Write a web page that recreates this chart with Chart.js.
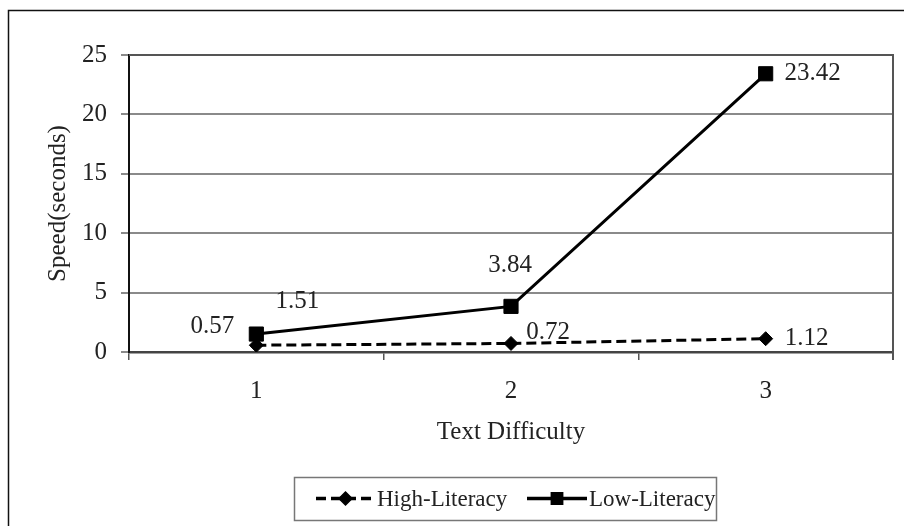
<!DOCTYPE html>
<html>
<head>
<meta charset="utf-8">
<script src="https://cdn.jsdelivr.net/npm/chart.js@4/dist/chart.umd.min.js"></script>
<style>
  html, body { margin: 0; padding: 0; background: #fff; overflow: hidden; }
  #wrap { position: relative; width: 904px; height: 526px; }
</style>
</head>
<body>
<div id="wrap"><canvas id="chart" width="904" height="526"></canvas></div>
<script>
// Reading speed by text difficulty
const categories = ['1', '2', '3'];
const highLiteracy = [0.57, 0.72, 1.12];
const lowLiteracy = [1.51, 3.84, 23.42];
const yTicks = [0, 5, 10, 15, 20, 25];

const FONT = "'Liberation Serif', 'Times New Roman', serif";
const INK = '#222';

// Label placement relative to each point (dx, dy in px)
const labelOffsets = [
  [[-44, -19], [37, -11], [41, 0]],
  [[41, -33], [-1, -41], [47, 0]]
];

const framePlugin = {
  id: 'frame',
  beforeDraw(chart) {
    const ctx = chart.ctx;
    ctx.save();
    ctx.fillStyle = '#fff';
    ctx.fillRect(0, 0, chart.width, chart.height);
    ctx.strokeStyle = '#111';
    ctx.lineWidth = 1.5;
    ctx.beginPath();
    ctx.moveTo(8.5, chart.height);
    ctx.lineTo(8.5, 10.5);
    ctx.lineTo(chart.width, 10.5);
    ctx.stroke();
    ctx.restore();
  },
  afterDatasetsDraw(chart) {
    const ctx = chart.ctx;
    const a = chart.chartArea;
    ctx.save();
    // plot area top and right edges
    ctx.strokeStyle = '#555';
    ctx.lineWidth = 2;
    ctx.beginPath();
    ctx.moveTo(a.left, a.top);
    ctx.lineTo(a.right, a.top);
    ctx.lineTo(a.right, a.bottom + 8);
    ctx.stroke();

    // value labels
    ctx.font = '25px ' + FONT;
    ctx.fillStyle = INK;
    ctx.textAlign = 'center';
    ctx.textBaseline = 'middle';
    chart.data.datasets.forEach((ds, di) => {
      const meta = chart.getDatasetMeta(di);
      meta.data.forEach((pt, i) => {
        const off = labelOffsets[di][i];
        ctx.fillText(ds.data[i].toFixed(2), pt.x + off[0], pt.y + off[1]);
      });
    });

    // legend
    const lx = 294, ly = 477, lw = 422, lh = 43;
    ctx.strokeStyle = '#777';
    ctx.lineWidth = 1.5;
    ctx.strokeRect(lx + 0.5, ly + 0.5, lw, lh);
    const cy = ly + lh / 2;
    ctx.font = '23px ' + FONT;
    const items = [
      { ds: chart.data.datasets[0], x0: 316, x1: 375, tx: 377 },
      { ds: chart.data.datasets[1], x0: 527, x1: 587, tx: 589 }
    ];
    items.forEach(it => {
      ctx.save();
      ctx.strokeStyle = '#000';
      ctx.lineWidth = 3.5;
      ctx.setLineDash(it.ds.borderDash || []);
      ctx.beginPath();
      ctx.moveTo(it.x0, cy);
      ctx.lineTo(it.x1, cy);
      ctx.stroke();
      ctx.restore();
      ctx.fillStyle = '#000';
      ctx.strokeStyle = '#000';
      Chart.helpers.drawPoint(ctx, {
        pointStyle: it.ds.pointStyle,
        radius: it.ds.pointStyle === 'rect' ? 8 : 6.5,
        borderWidth: 1
      }, (it.x0 + it.x1) / 2, cy);
      ctx.fillStyle = INK;
      ctx.textAlign = 'left';
      ctx.fillText(it.ds.label, it.tx, cy + 1);
    });
    ctx.restore();
  }
};

new Chart(document.getElementById('chart'), {
  type: 'line',
  data: {
    labels: categories,
    datasets: [
      {
        label: 'High-Literacy',
        data: highLiteracy,
        borderColor: '#000',
        backgroundColor: '#000',
        borderWidth: 3,
        borderDash: [10, 5],
        pointStyle: 'rectRot',
        pointRadius: 7,
        pointBorderWidth: 1,
        tension: 0
      },
      {
        label: 'Low-Literacy',
        data: lowLiteracy,
        borderColor: '#000',
        backgroundColor: '#000',
        borderWidth: 3,
        pointStyle: 'rect',
        pointRadius: 10,
        pointBorderWidth: 1,
        tension: 0
      }
    ]
  },
  options: {
    responsive: false,
    animation: false,
    events: [],
    layout: { padding: { left: 39, top: 55, right: 10, bottom: 75 } },
    plugins: { legend: { display: false }, tooltip: { enabled: false } },
    scales: {
      x: {
        type: 'category',
        offset: true,
        grid: {
          offset: true,
          drawOnChartArea: false,
          drawTicks: true,
          tickLength: 8,
          color: '#555',
          lineWidth: 1.5
        },
        border: { color: '#444', width: 2.5 },
        ticks: {
          color: INK,
          font: { family: FONT, size: 25 },
          padding: 16,
          maxRotation: 0
        },
        title: {
          display: true,
          text: 'Text Difficulty',
          color: INK,
          font: { family: FONT, size: 25 },
          padding: { top: 4, bottom: 4 }
        },
        afterFit(scale) { scale.height = 99; }
      },
      y: {
        min: 0,
        max: 25,
        afterBuildTicks(scale) { scale.ticks = yTicks.map(v => ({ value: v })); },
        grid: {
          color: '#8a8a8a',
          lineWidth: 2,
          drawTicks: true,
          tickLength: 8
        },
        border: { color: '#111', width: 2 },
        ticks: {
          color: INK,
          font: { family: FONT, size: 25 },
          padding: 14
        },
        title: {
          display: true,
          text: 'Speed(seconds)',
          color: INK,
          font: { family: FONT, size: 25 },
          padding: { top: 4, bottom: 4 }
        },
        afterFit(scale) { scale.width = 90; }
      }
    }
  },
  plugins: [framePlugin]
});
</script>
</body>
</html>
